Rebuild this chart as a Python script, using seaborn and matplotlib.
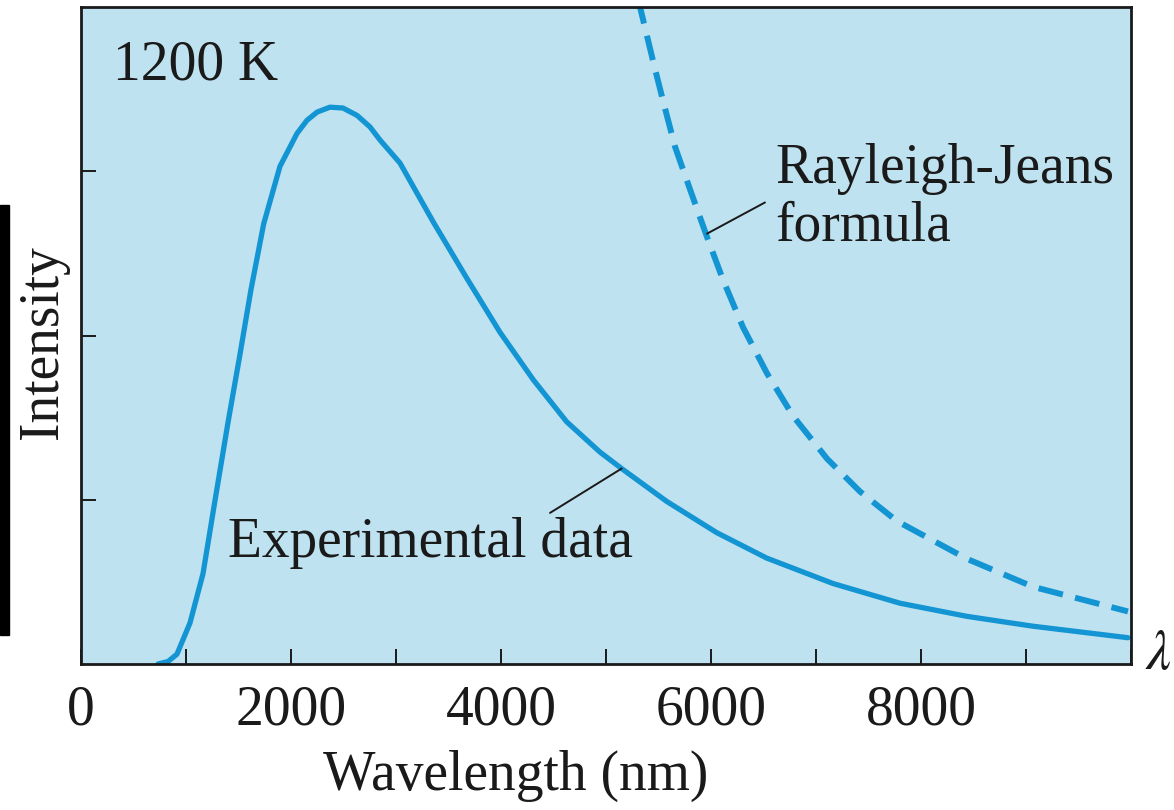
import numpy as np
import pandas as pd
import seaborn as sns
import matplotlib
matplotlib.use("Agg")
import matplotlib.pyplot as plt
from matplotlib.patches import Rectangle

# ---- data ----
exp_wavelength = [733, 829, 914, 1038, 1162, 1267, 1400, 1510, 1619, 1740, 1895, 2057, 2152,
                  2248, 2371, 2495, 2629, 2752, 2848, 3038, 3356, 3673, 3990, 4308, 4625,
                  4943, 5149, 5578, 6054, 6530, 7162, 7800, 8438, 9067, 9971]
exp_intensity = [0.0, 0.015, 0.06, 0.25, 0.55, 0.96, 1.47, 1.87, 2.28, 2.68, 3.03, 3.23, 3.31,
                 3.36, 3.39, 3.385, 3.34, 3.27, 3.19, 3.05, 2.69, 2.35, 2.02, 1.73, 1.475,
                 1.29, 1.19, 0.99, 0.80, 0.645, 0.49, 0.37, 0.29, 0.23, 0.16]

rj_wavelength = [5290, 5324, 5460, 5543, 5657, 5800, 5962, 6114, 6305, 6533, 6781, 7105,
                 7419, 7771, 8438, 9067, 9971]
rj_intensity = [4.15, 4.0, 3.64, 3.43, 3.15, 2.89, 2.60, 2.34, 2.05, 1.77, 1.51, 1.25,
                1.05, 0.87, 0.64, 0.47, 0.32]

x_ticks = [0, 1000, 2000, 3000, 4000, 5000, 6000, 7000, 8000, 9000, 10000]
x_tick_labels = ["0", "", "2000", "", "4000", "", "6000", "", "8000", "", ""]
y_ticks = [1, 2, 3]

exp_df = pd.DataFrame({"wavelength": exp_wavelength, "intensity": exp_intensity})
rj_df = pd.DataFrame({"wavelength": rj_wavelength, "intensity": rj_intensity})

sns.set_theme(style="ticks")
plt.rcParams["font.family"] = ["Liberation Serif", "DejaVu Serif"]
plt.rcParams["mathtext.fontset"] = "stix"

LINE = "#1495d3"
BG = "#bfe2f0"
INK = "#1a1a1a"
FS = 40

fig = plt.figure(figsize=(11.74, 8.10), dpi=100)
fig.patch.set_facecolor("white")
ax = fig.add_axes([81 / 1174, 1 - 664 / 810, 1050 / 1174, 657 / 810])
ax.set_facecolor(BG)

sns.lineplot(data=exp_df, x="wavelength", y="intensity", ax=ax, color=LINE,
             linewidth=3.8, sort=False, estimator=None)
sns.lineplot(data=rj_df, x="wavelength", y="intensity", ax=ax, color=LINE,
             linewidth=4.3, sort=False, estimator=None)
for ln in ax.lines:
    ln.set_solid_joinstyle("round")
ax.lines[1].set_dashes([4.2, 2.1])

ax.set_xlim(0, 10000)
ax.set_ylim(0, 4)

ax.set_xticks(x_ticks)
ax.set_xticklabels(x_tick_labels)
ax.set_yticks(y_ticks)
ax.set_yticklabels([])
ax.tick_params(axis="both", direction="in", length=11, width=1.4, color=INK)
ax.tick_params(axis="x", labelsize=FS, pad=15, labelcolor=INK)
for s in ax.spines.values():
    s.set_color(INK)
    s.set_linewidth(2.0)

ax.set_xlabel("Wavelength (nm)", fontsize=FS, color=INK)
ax.xaxis.label.set_va("baseline")
ax.xaxis.set_label_coords(0.414, -0.192)
ax.set_ylabel("Intensity", fontsize=FS, color=INK)
ax.yaxis.set_label_coords(-0.011, 0.49)

ax.text(0.0305, 0.889, "1200 K", transform=ax.transAxes, fontsize=FS, color=INK,
        va="baseline", ha="left")
ax.text(6610, 2.93, "Rayleigh-Jeans", fontsize=FS, color=INK, va="baseline", ha="left")
ax.text(6610, 2.58, "formula", fontsize=FS, color=INK, va="baseline", ha="left")
ax.text(1400, 0.651, "Experimental data", fontsize=FS, color=INK, va="baseline", ha="left")

# pointer lines
ax.plot([5962, 6514], [2.62, 2.81], color=INK, linewidth=1.4)
ax.plot([5149, 4467], [1.19, 0.92], color=INK, linewidth=1.4)

fig.text(1145 / 1174, 1 - 655 / 810, r"$\lambda$", fontsize=40, color=INK,
         ha="left", va="center")

# dark strip at left edge of the reference
fig.patches.append(Rectangle((0, 1 - 635 / 810), 9 / 1174, 430 / 810,
                             transform=fig.transFigure, color="black", zorder=5))

fig.savefig("out.png", dpi=100)
